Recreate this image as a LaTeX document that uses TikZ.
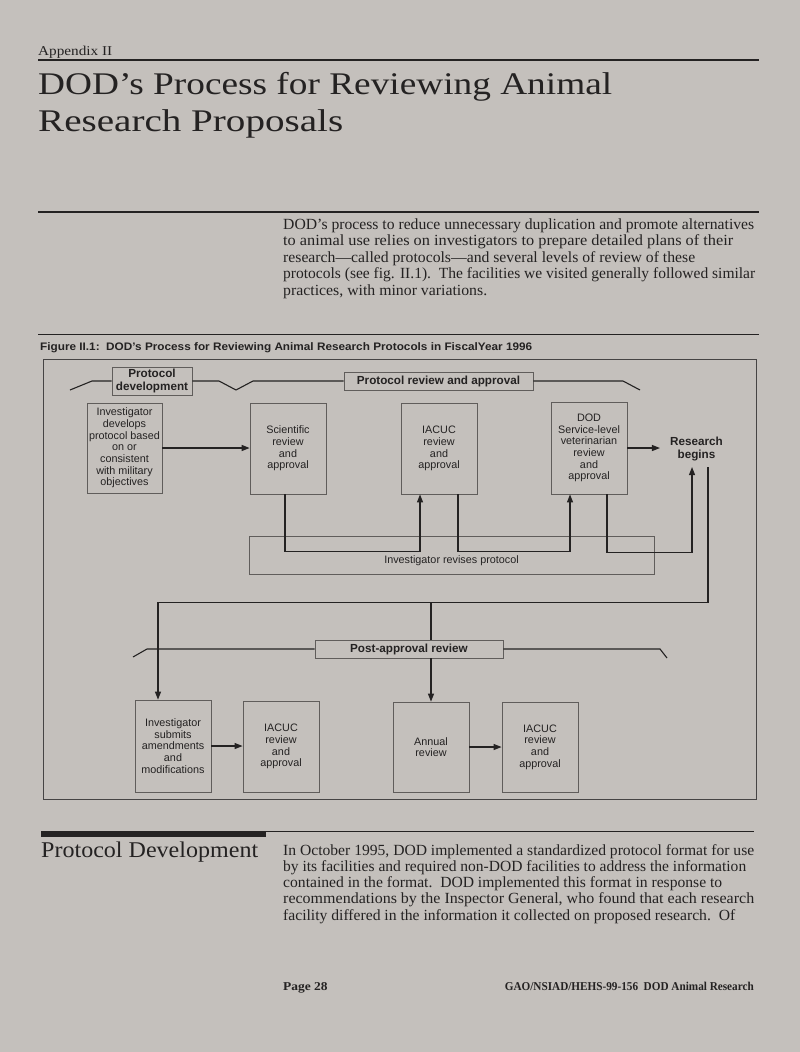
\documentclass[tikz,border=0pt]{standalone}
\usepackage{fontspec}
\setmainfont{Liberation Serif}
\setsansfont{Liberation Sans}
\usetikzlibrary{arrows.meta}
\definecolor{paper}{RGB}{196,192,188}
\definecolor{ink}{RGB}{36,34,34}
\definecolor{boxline}{RGB}{96,93,91}
\definecolor{frameline}{RGB}{70,68,68}
\newcommand\fitw[2]{\resizebox{#1pt}{\height}{#2}}
\begin{document}
\begin{tikzpicture}[x=1pt,y=-1pt,
  every node/.style={text=ink},
  txt/.style={anchor=base west, inner sep=0pt},
  procbox/.style={draw=boxline, line width=0.8pt, inner sep=0pt, align=center, font=\sffamily\fontsize{10.8}{11.7}\selectfont},
  labelbox/.style={draw=boxline, line width=0.8pt, inner sep=0pt, align=center, font=\sffamily\bfseries\fontsize{11.7}{12.7}\selectfont},
  conn/.style={draw=ink, line width=1.15pt},
  arr/.style={conn, -{Triangle[length=8pt,width=6pt]}},
  divline/.style={draw=ink, line width=1.1pt},
  body/.style={txt, font=\fontsize{15.5}{16.5}\selectfont},
]
\useasboundingbox (0,0) rectangle (800,1052);
\fill[paper] (0,0) rectangle (800,1052);

% header
\node[txt, font=\fontsize{13.5}{14}\selectfont] (app) at (38,55) {\fitw{74}{Appendix II}};
\draw[ink, line width=1.8pt] (38,60) -- (759,60);
\node[txt, font=\fontsize{31.5}{34}\selectfont] (t1) at (38,94) {\fitw{574}{DOD’s Process for Reviewing Animal}};
\node[txt, font=\fontsize{31.5}{34}\selectfont] (t2) at (38,131) {\fitw{305}{Research Proposals}};
\draw[ink, line width=1.8pt] (38,212) -- (759,212);

\node[body] (p1a) at (283,229) {\fitw{471}{DOD’s process to reduce unnecessary duplication and promote alternatives}};
\node[body] (p1b) at (283,245.5) {\fitw{450}{to animal use relies on investigators to prepare detailed plans of their}};
\node[body] (p1c) at (283,262) {\fitw{412}{research—called protocols—and several levels of review of these}};
\node[body] (p1d) at (283,278.5) {\fitw{472}{protocols (see fig. II.1).\ \ The facilities we visited generally followed similar}};
\node[body] (p1e) at (283,295) {\fitw{204}{practices, with minor variations.}};

\draw[ink, line width=0.9pt] (38,334) -- (759,334);
\node[txt, font=\sffamily\bfseries\fontsize{10.9}{12}\selectfont] (figt) at (40,350) {\fitw{492}{Figure II.1:\ \ DOD’s Process for Reviewing Animal Research Protocols in FiscalYear 1996}};

% figure frame
\draw[frameline, line width=0.9pt] (43,359) rectangle (756,799);

% section labels
\node[labelbox, minimum width=80pt, minimum height=28pt] (pdev) at (152,381) {Protocol\\development};
\node[labelbox, minimum width=189pt, minimum height=18pt] (prev) at (438.5,381) {Protocol review and approval};
\node[labelbox, minimum width=188pt, minimum height=18pt] (post) at (409,649) {Post-approval review};

\draw[divline] (70,390) -- (92,381) -- (pdev.west);
\draw[divline] (pdev.east) -- (219,381) -- (236,390) -- (253,381) -- (prev.west);
\draw[divline] (prev.east) -- (623,381) -- (640,390);
\draw[divline] (133,657) -- (147,649) -- (post.west);
\draw[divline] (post.east) -- (660,649) -- (667,658);

% top row
\node[procbox, minimum width=75pt, minimum height=90pt] (dev) at (124.5,448) {Investigator\\develops\\protocol based\\on or\\consistent\\with military\\objectives};
\node[procbox, minimum width=76pt, minimum height=91pt] (sci) at (288,448.5) {Scientific\\review\\and\\approval};
\node[procbox, minimum width=76pt, minimum height=91pt] (iac1) at (439,448.5) {IACUC\\review\\and\\approval};
\node[procbox, minimum width=76pt, minimum height=92pt] (dod) at (589,448) {DOD\\Service-level\\veterinarian\\review\\and\\approval};
\node[inner xsep=10pt, inner ysep=6pt, align=center, font=\sffamily\bfseries\fontsize{11.7}{13.3}\selectfont] (rb) at (696.5,448.7) {Research\\begins};

\node[procbox, minimum width=405pt, text height=18.5pt, text depth=2.5pt, inner ysep=8.5pt] (rev) at (451.5,555) {Investigator revises protocol};

% bottom row
\node[procbox, minimum width=76pt, minimum height=92pt] (ism) at (173,746) {Investigator\\submits\\amendments\\and\\modifications};
\node[procbox, minimum width=76pt, minimum height=91pt] (iac2) at (281,746.5) {IACUC\\review\\and\\approval};
\node[procbox, minimum width=76pt, minimum height=90pt] (ann) at (431,747) {Annual\\review};
\node[procbox, minimum width=76pt, minimum height=90pt] (iac3) at (540,747) {IACUC\\review\\and\\approval};

% connectors
\draw[arr] (dev.east) -- (dev.east -| sci.west);
\draw[arr] ([xshift=-3pt]sci.south) -- ++(0,57) -| ([xshift=-19pt]iac1.south);
\draw[arr] ([xshift=19pt]iac1.south) -- ++(0,57) -| ([xshift=-19pt]dod.south);
\draw[arr] ([xshift=18pt]dod.south) -- ++(0,58) -| ([xshift=-4.5pt]rb.south);
\draw[arr] (dod.east) -- (dod.east -| rb.west);
\coordinate (j) at (431,602.5);
\draw[arr] ([xshift=11.5pt]rb.south) |- (j) -| ([xshift=-15pt]ism.north);
\draw[conn] (j) -- (j |- post.north);
\draw[arr] (j |- post.south) -- (ann.north);
\draw[arr] (ism.east) -- (ism.east -| iac2.west);
\draw[arr] (ann.east) -- (ann.east -| iac3.west);

% lower section
\fill[ink] (41,831) rectangle (266,837);
\draw[ink, line width=0.9pt] (41,831.5) -- (754,831.5);
\node[txt, font=\fontsize{22.5}{24}\selectfont] (pd) at (41,857) {\fitw{217}{Protocol Development}};
\node[body] (p2a) at (283,855) {\fitw{471}{In October 1995, DOD implemented a standardized protocol format for use}};
\node[body] (p2b) at (283,871.3) {\fitw{463}{by its facilities and required non-DOD facilities to address the information}};
\node[body] (p2c) at (283,887.6) {\fitw{439}{contained in the format.\ \ DOD implemented this format in response to}};
\node[body] (p2d) at (283,903.9) {\fitw{471}{recommendations by the Inspector General, who found that each research}};
\node[body] (p2e) at (283,920.2) {\fitw{452}{facility differed in the information it collected on proposed research.\ \ Of}};

\node[txt, font=\bfseries\fontsize{12}{13}\selectfont] (pg) at (283,990) {\fitw{44.5}{Page 28}};
\node[anchor=base east, inner sep=0pt, font=\bfseries\fontsize{12}{13}\selectfont] (gao) at (754,990) {\fitw{249}{GAO/NSIAD/HEHS-99-156\ \ DOD Animal Research}};
\end{tikzpicture}
\end{document}
